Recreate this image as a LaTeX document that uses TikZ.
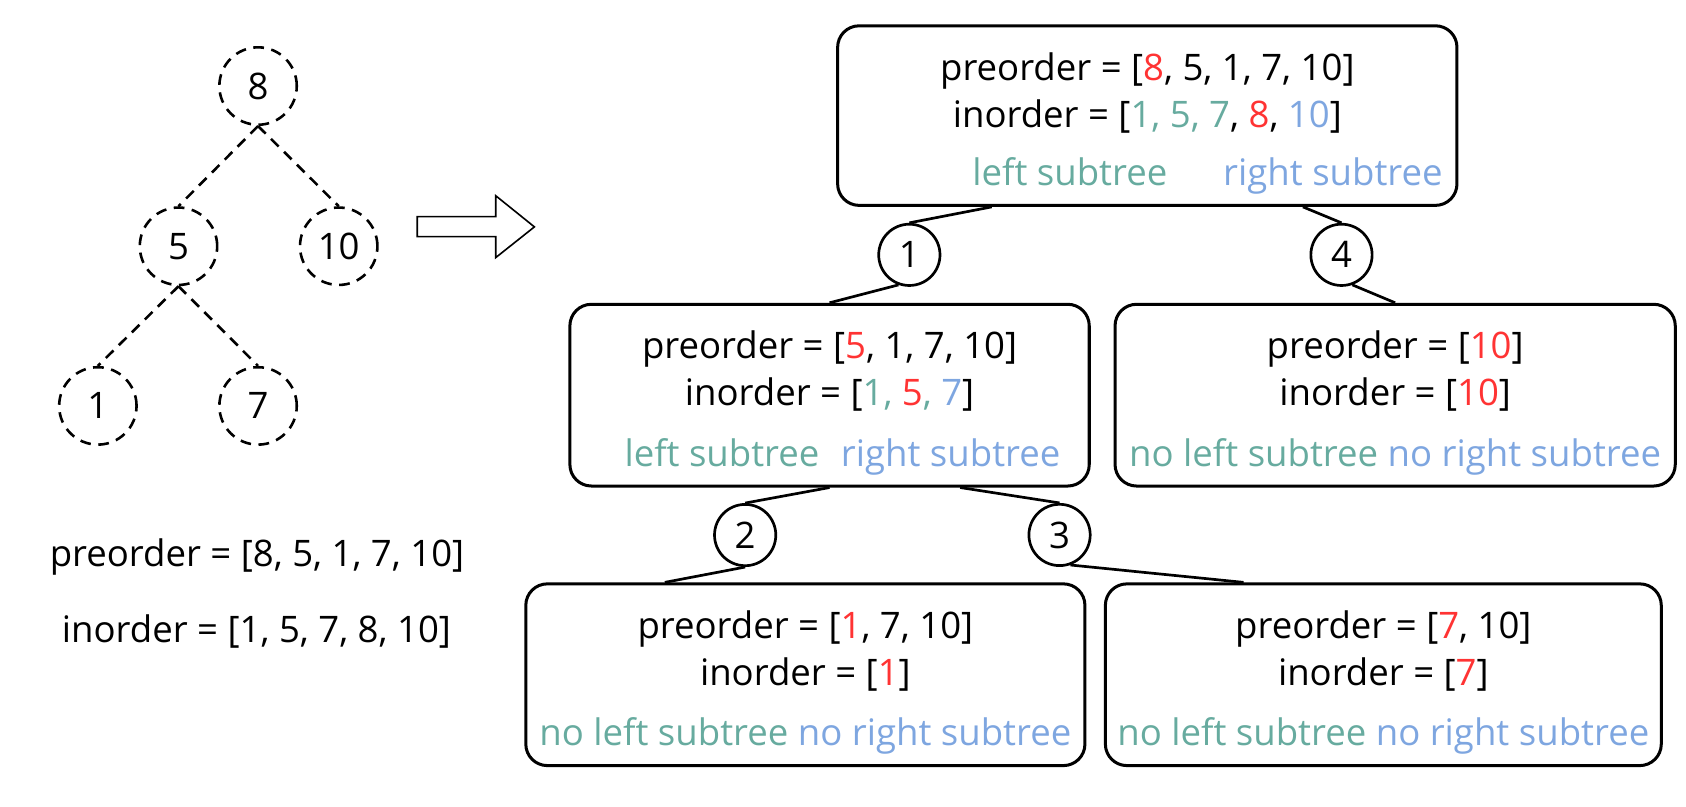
\documentclass[tikz,border=0pt]{standalone}
\usepackage{fontspec}
\setmainfont{Open Sans}
\usetikzlibrary{calc}

\definecolor{rootred}{HTML}{FF3333}
\definecolor{leftgreen}{HTML}{67AB9F}
\definecolor{rightblue}{HTML}{7EA6E0}
\newcommand{\rootnum}[1]{\textcolor{rootred}{#1}}
\newcommand{\lefttree}[1]{\textcolor{leftgreen}{#1}}
\newcommand{\righttree}[1]{\textcolor{rightblue}{#1}}
\newcommand{\boxstrut}{\rule{0pt}{20pt}}

\begin{document}
\begin{tikzpicture}[x=0.5pt, y=-0.5pt, font=\fontsize{17}{22}\selectfont,
    tree/.style = {draw, circle, dash pattern=on 5pt off 3.5pt, line width=1.2pt, minimum size=36pt, inner sep=0pt},
    treeline/.style = {dash pattern=on 5pt off 3.5pt, line width=1.2pt},
    box/.style = {draw, rounded corners=10pt, line width=1.4pt, align=center, inner sep=2pt, minimum height=84.5pt},
    num/.style = {draw, circle, fill=white, line width=1.25pt, minimum size=28.5pt, inner sep=0pt},
    link/.style = {line width=1.25pt}]
    \useasboundingbox (0,0) rectangle (1568,750);

    % the tree
    \node[tree] (t8) at (240,80) {8};
    \node[tree] (t5) at (166,229) {5};
    \node[tree] (t10) at (315,229) {10};
    \node[tree] (t1) at (91,377.5) {1};
    \node[tree] (t7) at (240,377.5) {7};
    \draw[treeline] (t8.south) -- (t5.north);
    \draw[treeline] (t8.south) -- (t10.north);
    \draw[treeline] (t5.south) -- (t1.north);
    \draw[treeline] (t5.south) -- (t7.north);

    \node (pre) at (239,518) {preorder = [8, 5, 1, 7, 10]};
    \node (in) at (238.5,587) {inorder = [1, 5, 7, 8, 10]};

    % block arrow
    \draw[line width=0.75pt] (388,201.5) -- (461,201.5) -- (461,182) -- (497,211) -- (461,239.6) -- (461,220) -- (388,220) -- cycle;

    % recursion boxes
    \node[box, minimum width=288pt, minimum height=83.5pt] (root) at (1067,107.5)
        {\boxstrut preorder = [\rootnum{8}, 5, 1, 7, 10]\\
         inorder = [\lefttree{1, 5, 7}, \rootnum{8}, \righttree{10}]\\[5pt]
         \hspace*{56pt}\lefttree{left subtree}\hspace{26pt}\righttree{right subtree}};
    \node[box, minimum width=241.5pt] (midL) at (771.5,367.5)
        {\boxstrut preorder = [\rootnum{5}, 1, 7, 10]\\
         inorder = [\lefttree{1, }\rootnum{5}\lefttree{, }\righttree{7}]\\[6pt]
         \hspace*{12pt}\lefttree{left subtree}\hspace{10pt}\righttree{right subtree}};
    \node[box, minimum width=260.5pt] (midR) at (1297.5,367.5)
        {\boxstrut preorder = [\rootnum{10}]\\
         inorder = [\rootnum{10}]\\[6pt]
         \lefttree{no left subtree} \righttree{no right subtree}};
    \node[box, minimum width=260pt] (botL) at (749,627.5)
        {\boxstrut preorder = [\rootnum{1}, 7, 10]\\
         inorder = [\rootnum{1}]\\[6pt]
         \lefttree{no left subtree} \righttree{no right subtree}};
    \node[box, minimum width=258.5pt] (botR) at (1286.5,627.5)
        {\boxstrut preorder = [\rootnum{7}, 10]\\
         inorder = [\rootnum{7}]\\[6pt]
         \lefttree{no left subtree} \righttree{no right subtree}};

    % step numbers
    \node[num] (s1) at (845.7,237) {1};
    \node[num] (s2) at (693,497.6) {2};
    \node[num] (s3) at (985.4,497.5) {3};
    \node[num] (s4) at (1247.6,237) {4};

    \draw[link] ($(root.south west)!0.25!(root.south east)$) -- (s1.north);
    \draw[link] (s1.250) -- (midL.north);
    \draw[link] ($(root.south west)!0.75!(root.south east)$) -- (s4.north);
    \draw[link] (s4.290) -- (midR.north);
    \draw[link] (midL.south) -- (s2.north);
    \draw[link] (s2.south) -- ($(botL.north west)!0.25!(botL.north east)$);
    \draw[link] ($(midL.south west)!0.75!(midL.south east)$) -- (s3.north);
    \draw[link] (s3.290) -- ($(botR.north west)!0.25!(botR.north east)$);
\end{tikzpicture}
\end{document}
